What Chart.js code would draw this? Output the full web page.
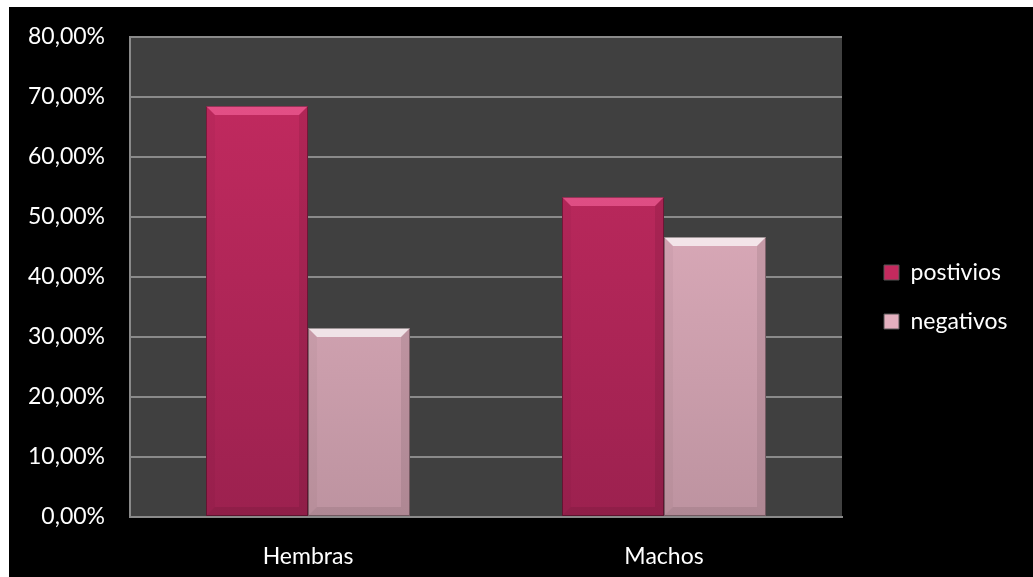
<!DOCTYPE html>
<html>
<head>
<meta charset="utf-8">
<script src="https://cdn.jsdelivr.net/npm/chart.js@4/dist/chart.umd.min.js"></script>
<style>
  html, body { margin: 0; padding: 0; background: #fff; }
  #wrap { position: absolute; left: 9px; top: 7px; width: 1024px; height: 570px; background: #000; }
</style>
</head>
<body>
<div id="wrap"><canvas id="sexChart" width="1024" height="570"></canvas></div>
<script>
// data
const categories = ['Hembras', 'Machos'];
const positivos = [68.5, 53.33];
const negativos = [31.5, 46.67];
const yTicks = [0, 10, 20, 30, 40, 50, 60, 70, 80];

const FONT = 'Lato, "Open Sans", sans-serif';

function barGradient(top, bottom) {
    return function(context) {
        const area = context.chart.chartArea;
        if (!area) return top;
        const g = context.chart.ctx.createLinearGradient(0, area.top, 0, area.bottom);
        g.addColorStop(0, top);
        g.addColorStop(1, bottom);
        return g;
    };
}

// dark canvas, grey plot area
const plotBg = {
    id: 'plotBg',
    beforeDraw(chart) {
        const { ctx, chartArea: a } = chart;
        ctx.save();
        ctx.fillStyle = '#404040';
        ctx.fillRect(a.left, a.top, a.right - a.left, a.bottom - a.top);
        ctx.restore();
    }
};

// bevelled look on every bar, using the bar elements' own geometry
const bevel = {
    id: 'bevel',
    afterDatasetsDraw(chart) {
        const ctx = chart.ctx;
        chart.data.datasets.forEach((ds, i) => {
            const light = i === 0 ? 'rgba(255,110,165,0.55)' : 'rgba(255,255,255,0.7)';
            chart.getDatasetMeta(i).data.forEach(el => {
                const p = el.getProps(['x', 'y', 'base', 'width'], true);
                const l = p.x - p.width / 2, r = p.x + p.width / 2, t = p.y, b = p.base, d = 9;
                const poly = (pts, col) => {
                    ctx.beginPath();
                    ctx.moveTo(pts[0][0], pts[0][1]);
                    pts.slice(1).forEach(q => ctx.lineTo(q[0], q[1]));
                    ctx.closePath();
                    ctx.fillStyle = col;
                    ctx.fill();
                };
                ctx.save();
                poly([[l, t], [r, t], [r - d, t + d], [l + d, t + d]], light);
                poly([[r, t], [r, b], [r - d, b - d], [r - d, t + d]], 'rgba(0,0,0,0.08)');
                poly([[l, t], [l + d, t + d], [l + d, b - d], [l, b]], 'rgba(0,0,0,0.03)');
                poly([[l, b], [l + d, b - d], [r - d, b - d], [r, b]], 'rgba(0,0,0,0.08)');
                ctx.strokeStyle = 'rgba(0,0,0,0.35)';
                ctx.lineWidth = 1;
                ctx.strokeRect(l + 0.5, t + 0.5, p.width - 1, b - t - 1);
                ctx.restore();
            });
        });
    }
};

// fixed legend width and a nudge, to sit like the original
const legendPlace = {
    id: 'legendPlace',
    beforeLayout(chart) {
        const lg = chart.legend;
        if (lg && !lg._fixed) {
            const fit = lg.fit.bind(lg);
            lg.fit = function() { fit(); this.width = 191; };
            lg._fixed = true;
        }
    },
    afterLayout(chart) {
        const lg = chart.legend;
        lg.left += 16;
        lg.right += 16;
        lg.top -= 10;
        lg.bottom -= 10;
    }
};

const legendColors = ['#c42a5e', '#e3b0bf'];

new Chart(document.getElementById('sexChart').getContext('2d'), {
    type: 'bar',
    data: {
        labels: categories,
        datasets: [{
            label: 'postivios',
            data: positivos,
            backgroundColor: barGradient('#c62b61', '#9c214f'),
            borderWidth: 0
        }, {
            label: 'negativos',
            data: negativos,
            backgroundColor: barGradient('#e9b5c5', '#bd93a0'),
            borderWidth: 0
        }]
    },
    options: {
        responsive: false,
        animation: false,
        layout: { padding: { top: 30, left: 0, right: 0, bottom: 0 } },
        datasets: {
            bar: { categoryPercentage: 0.573, barPercentage: 1 }
        },
        plugins: {
            tooltip: { enabled: false },
            legend: {
                position: 'right',
                labels: {
                    color: '#fff',
                    font: { family: FONT, size: 23 },
                    boxWidth: 15,
                    boxHeight: 15,
                    padding: 26,
                    generateLabels: chart => chart.data.datasets.map((ds, i) => ({
                        text: ds.label,
                        fillStyle: legendColors[i],
                        strokeStyle: '#555',
                        lineWidth: 1,
                        fontColor: '#fff',
                        datasetIndex: i
                    }))
                }
            }
        },
        scales: {
            x: {
                grid: { display: false },
                border: { display: true, color: '#8a8a8a', width: 2 },
                ticks: { color: '#fff', font: { family: FONT, size: 23 }, padding: 18 },
                afterFit: s => { s.height = 60; }
            },
            y: {
                min: 0,
                max: 80,
                afterBuildTicks: s => { s.ticks = yTicks.map(v => ({ value: v })); },
                grid: { color: '#8a8a8a', lineWidth: 2, drawTicks: true, tickLength: 22, tickColor: 'rgba(0,0,0,0)' },
                border: { display: true, color: '#8a8a8a', width: 2 },
                ticks: {
                    color: '#fff',
                    font: { family: FONT, size: 23 },
                    padding: 3,
                    callback: v => v.toFixed(2).replace('.', ',') + '%'
                },
                afterFit: s => { s.width = 121; }
            }
        }
    },
    plugins: [plotBg, bevel, legendPlace]
});
</script>
</body>
</html>
